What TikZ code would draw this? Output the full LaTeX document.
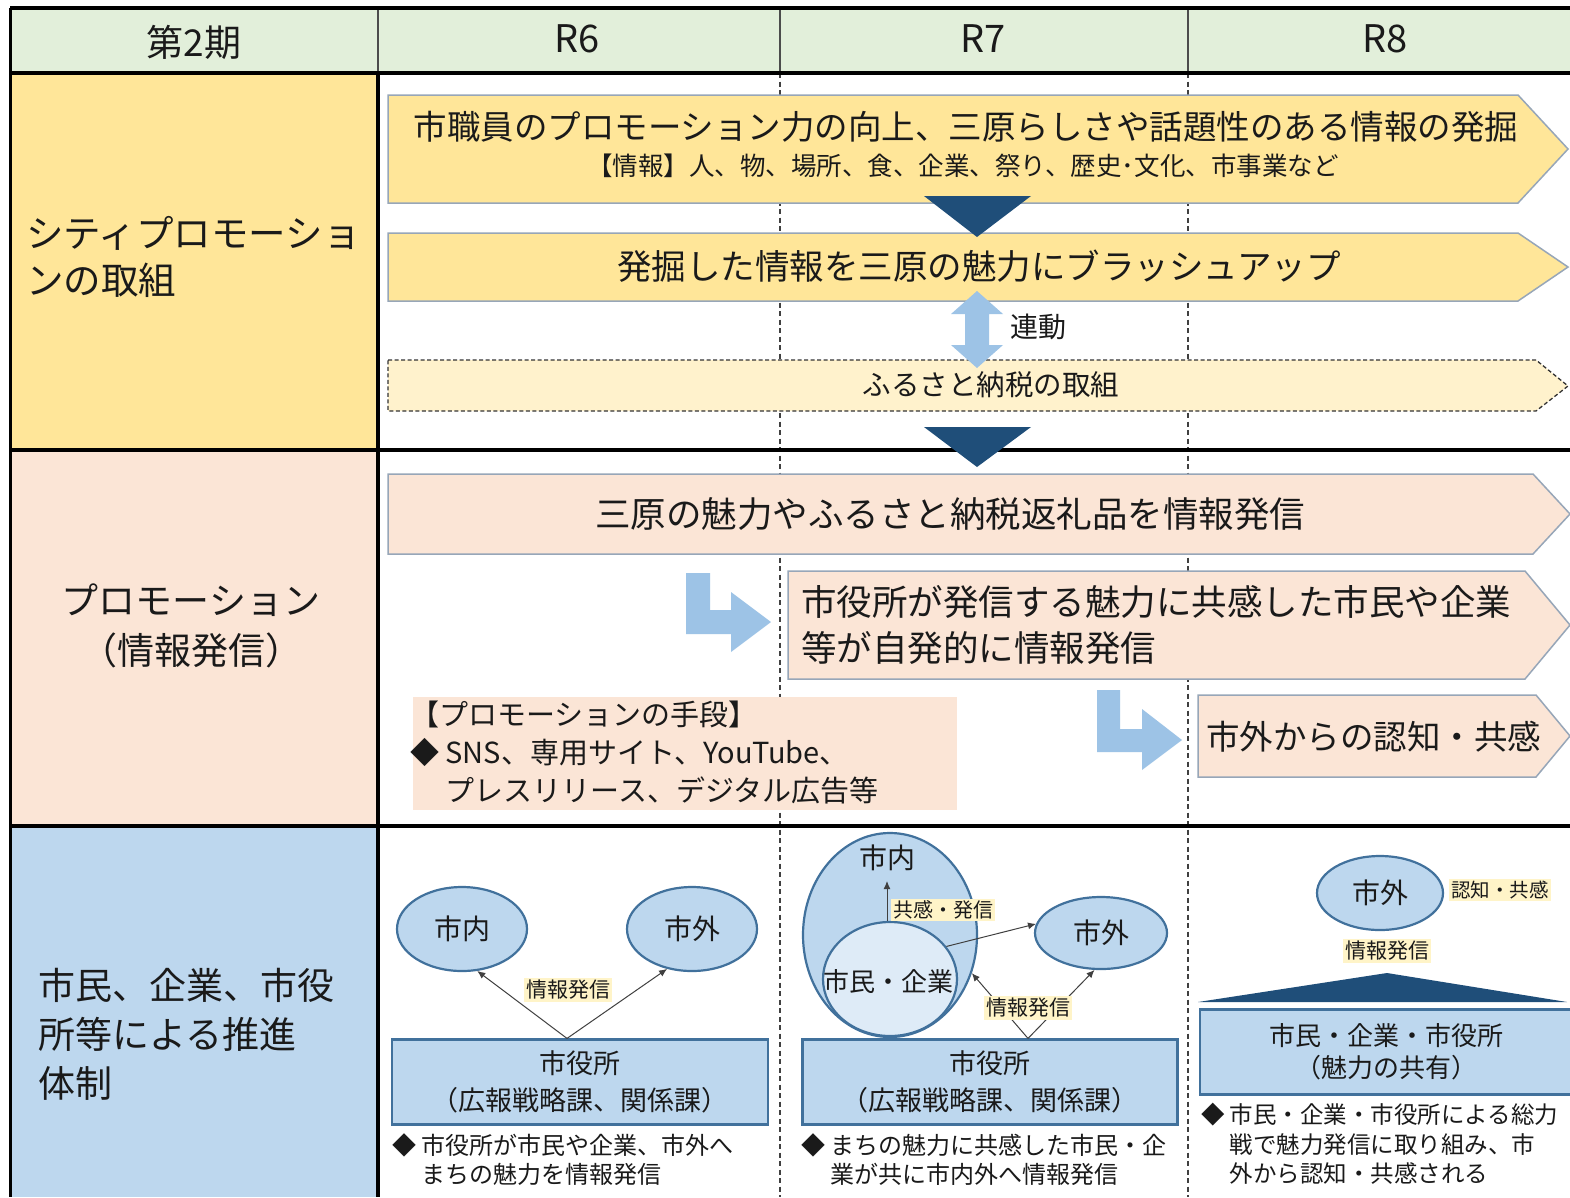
\documentclass[tikz,border=0pt]{standalone}
\usepackage{fontspec}
\setmainfont{Noto Sans CJK JP}
\usetikzlibrary{arrows.meta,shapes.geometric}
\definecolor{hdr}{HTML}{E2EFDA}
\definecolor{gold}{HTML}{FFE699}
\definecolor{lgold}{HTML}{FFF2CC}
\definecolor{pinkc}{HTML}{FBE5D6}
\definecolor{bluec}{HTML}{BDD7EE}
\definecolor{lblue}{HTML}{DEEBF7}
\definecolor{dblue}{HTML}{1F4E79}
\definecolor{eblue}{HTML}{41719C}
\definecolor{sky}{HTML}{9DC3E6}
\definecolor{glow}{HTML}{FFF4C8}
\definecolor{aline}{HTML}{97A6B8}
\definecolor{ink}{HTML}{1A1A1A}
\newcommand{\myfs}[2]{\fontsize{#1}{#2}\selectfont}
\tikzset{
  grid line/.style={line width=4pt, black},
  thin grid/.style={line width=1.2pt, black!70},
  col dash/.style={line width=1.3pt, black!75, dash pattern=on 5pt off 3.5pt},
  gold arrow/.style={fill=gold, draw=aline, line width=1.5pt},
  pink arrow/.style={fill=pinkc, draw=aline, line width=1.5pt},
  furusato arrow/.style={fill=lgold, draw=black!80, line width=1.3pt, dash pattern=on 4pt off 2.5pt},
  down tri/.style={fill=dblue},
  bend arrow/.style={fill=sky},
  txt/.style={text=ink, inner sep=0pt},
  region/.style={ellipse, fill=bluec, draw=eblue, line width=2.2pt, inner sep=0pt, text=ink},
  office/.style={rectangle, fill=bluec, draw=eblue, line width=2.2pt, inner sep=0pt, text=ink, align=center},
  glowlab/.style={fill=glow, inner sep=2pt, text=ink},
  flow/.style={draw=black!75, line width=1pt, -{Latex[length=8pt,width=7pt]}},
}
\begin{document}
\begin{tikzpicture}[x=1pt,y=-1pt]
\useasboundingbox (0,0) rectangle (1570,1197);
\fill[white] (0,0) rectangle (1570,1197);
% cell backgrounds
\fill[hdr] (10,8) rectangle (1570,73);
\fill[gold] (10,73) rectangle (378,450);
\fill[pinkc] (10,450) rectangle (378,826);
\fill[bluec] (10,826) rectangle (378,1197);
% column separators
\draw[thin grid] (378,8) -- (378,73);
\draw[thin grid] (780,8) -- (780,73);
\draw[thin grid] (1188,8) -- (1188,73);
\draw[col dash] (780,73) -- (780,1197);
\draw[col dash] (1188,73) -- (1188,1197);

% header texts
\node[txt, font=\myfs{37}{42}] (hA) at (194,42) {第2期};
\node[txt, font=\myfs{38}{44}] (h6) at (577,39) {R6};
\node[txt, font=\myfs{38}{44}] (h7) at (983,39) {R7};
\node[txt, font=\myfs{38}{44}] (h8) at (1385,39) {R8};

% left column texts
\node[txt, font=\myfs{37.5}{47}, align=left, anchor=west] (lab1) at (26,257) {シティプロモーショ\\ンの取組};
\node[txt, font=\myfs{37}{50}, align=center] (lab2) at (191,626) {プロモーション\\（情報発信）};
\node[txt, font=\myfs{37}{49}, align=left, anchor=west] (lab3) at (38,1034) {市民、企業、市役\\所等による推進\\体制};

% row 1 arrows
\filldraw[gold arrow] (388,95) -- (1518,95) -- (1568,149) -- (1518,203) -- (388,203) -- cycle;
\node[txt, font=\myfs{33.5}{38}] (t1a) at (966,127) {市職員のプロモーション力の向上、三原らしさや話題性のある情報の発掘};
\node[txt, font=\myfs{25.5}{30}] (t1b) at (963,166) {【情報】人、物、場所、食、企業、祭り、歴史･文化、市事業など};
\filldraw[gold arrow] (388,233) -- (1518,233) -- (1568,267) -- (1518,301) -- (388,301) -- cycle;
\node[txt, font=\myfs{34.5}{40}] (t2) at (979,266) {発掘した情報を三原の魅力にブラッシュアップ};
\fill[down tri] (924,196) -- (1031,196) -- (977,237) -- cycle;
\filldraw[furusato arrow] (388,360) -- (1536,360) -- (1568,386) -- (1536,411) -- (388,411) -- cycle;
\node[txt, font=\myfs{28.5}{34}] (t3) at (991,385) {ふるさと納税の取組};
\fill[bend arrow] (977,291) -- (1003,314) -- (989,314) -- (989,345) -- (1003,345) -- (977,368) -- (951,345) -- (965,345) -- (965,314) -- (951,314) -- cycle;
\node[txt, font=\myfs{28}{34}] (rendo) at (1038,327) {連動};

% row 2
\filldraw[pink arrow] (388,474) -- (1533,474) -- (1570,514) -- (1533,554) -- (388,554) -- cycle;
\node[txt, font=\myfs{35.5}{40}] (t4) at (950,514) {三原の魅力やふるさと納税返礼品を情報発信};
\filldraw[pink arrow] (788,571) -- (1525,571) -- (1570,625) -- (1525,679) -- (788,679) -- cycle;
\node[txt, font=\myfs{35.5}{46}, align=left, anchor=west] (t5) at (801,625) {市役所が発信する魅力に共感した市民や企業\\等が自発的に情報発信};
\filldraw[pink arrow] (1198,695) -- (1536,695) -- (1570,736) -- (1536,777) -- (1198,777) -- cycle;
\node[txt, font=\myfs{33.5}{40}, anchor=west] (t6) at (1206,737) {市外からの認知・共感};
\fill[bend arrow] (686,573) -- (710,573) -- (710,610) -- (731,610) -- (731,592) -- (771,622) -- (731,652) -- (731,634) -- (686,634) -- cycle;
\fill[bend arrow] (1097,690) -- (1120,690) -- (1120,729) -- (1142,729) -- (1142,709) -- (1182,740) -- (1142,770) -- (1142,752) -- (1097,752) -- cycle;
\node[fill=pinkc, inner sep=0pt, minimum width=544pt, minimum height=113pt, anchor=north west] (promo) at (413,697) {};
\node[txt, font=\myfs{29}{38}, align=left, anchor=north west] (promoT) at (410,701) {【プロモーションの手段】\\◆ SNS、専用サイト、YouTube、\\\phantom{◆ }プレスリリース、デジタル広告等};

% grid lines on top
\draw[line width=3.5pt] (10,8) -- (1570,8);
\draw[line width=3pt] (10,8) -- (10,1197);
\draw[grid line] (10,73) -- (1570,73);
\draw[grid line] (378,73) -- (378,1197);
\draw[grid line] (10,450) -- (1570,450);
\draw[grid line] (10,826) -- (1570,826);
\fill[down tri] (924,427) -- (1031,427) -- (977,467) -- cycle;

% row 3, R6
\node[region, minimum width=130pt, minimum height=84pt, font=\myfs{28}{34}] (shinai6) at (462,929) {市内};
\node[region, minimum width=130pt, minimum height=84pt, font=\myfs{28}{34}] (shigai6) at (692,929) {市外};
\node[office, minimum width=376pt, minimum height=85pt, font=\myfs{27}{37}] (yakusho6) at (580,1082) {市役所\\（広報戦略課、関係課）};
\coordinate (src6) at ([xshift=-13pt]yakusho6.north);
\draw[flow] (src6) -- (shinai6.-70);
\draw[flow] (src6) -- (shigai6.-122);
\node[glowlab, font=\myfs{21}{25}] (lab6) at (568,990) {情報発信};
\node[txt, font=\myfs{24}{29.5}, align=left, anchor=north west] (bul6) at (392,1133) {◆ 市役所が市民や企業、市外へ\\\phantom{◆ }まちの魅力を情報発信};

% row 3, R7
\node[region, minimum width=174pt, minimum height=204pt] (shinai7) at (890,935) {};
\node[region, fill=lblue, minimum width=134pt, minimum height=114pt] (kigyo7) at (890,979) {};
\node[txt, font=\myfs{28}{34}] (shinai7t) at (887,858) {市内};
\node[txt, font=\myfs{26}{30}] (kigyo7t) at (888,982) {市民・企業};
\coordinate (up7) at (887,881);
\draw[flow] (kigyo7.north -| up7) -- (up7);
\node[glowlab, font=\myfs{20}{24}] (lab7a) at (943,910) {共感・発信};
\node[region, minimum width=132pt, minimum height=72pt, font=\myfs{28}{34}] (shigai7) at (1101,933) {市外};
\draw[flow] (kigyo7.30) -- (shigai7.172);
\node[office, minimum width=375pt, minimum height=85pt, font=\myfs{27}{37}] (yakusho7) at (990,1082) {市役所\\（広報戦略課、関係課）};
\coordinate (src7) at ([xshift=38pt]yakusho7.north);
\draw[flow] (src7) -- (shinai7.-25);
\draw[flow] (src7) -- (shigai7.-100);
\node[glowlab, font=\myfs{21}{25}] (lab7b) at (1028,1008) {情報発信};
\node[txt, font=\myfs{24}{29.5}, align=left, anchor=north west] (bul7) at (801,1133) {◆ まちの魅力に共感した市民・企\\\phantom{◆ }業が共に市内外へ情報発信};

% row 3, R8
\node[region, minimum width=126pt, minimum height=74pt, font=\myfs{28}{34}] (shigai8) at (1380,893) {市外};
\node[glowlab, font=\myfs{19.5}{24}] (lab8a) at (1500,890) {認知・共感};
\node[glowlab, font=\myfs{21}{25}] (lab8b) at (1387,951) {情報発信};
\fill[down tri] (1198,1002) -- (1387,973) -- (1567,1002) -- cycle;
\node[office, minimum width=372pt, minimum height=85pt, font=\myfs{26}{32}] (kyoyu8) at (1386,1052) {市民・企業・市役所\\（魅力の共有）};
\node[txt, font=\myfs{23.5}{29.5}, align=left, anchor=north west] (bul8) at (1201,1103) {◆ 市民・企業・市役所による総力\\\phantom{◆ }戦で魅力発信に取り組み、市\\\phantom{◆ }外から認知・共感される};
\end{tikzpicture}
\end{document}
